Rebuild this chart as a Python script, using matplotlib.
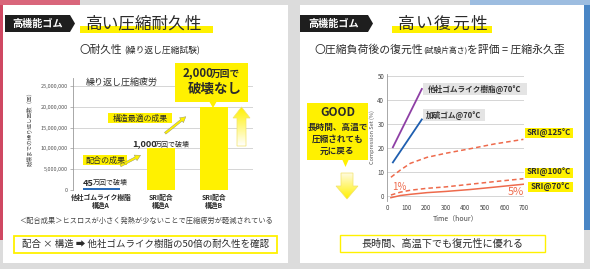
import numpy as np
import matplotlib
matplotlib.use("Agg")
import matplotlib.pyplot as plt
from matplotlib.patches import Rectangle, Polygon, FancyArrowPatch
from matplotlib.colors import LinearSegmentedColormap

plt.rcParams['font.family'] = ['Noto Sans CJK JP', 'DejaVu Sans']

# left chart: repeated compression fatigue
categories = ["他社ゴムライク樹脂\n構造A", "SRI配合\n構造A", "SRI配合\n構造B"]
cycles = [450000, 10000000, 20000000]
cycle_ticks = [0, 5000000, 10000000, 15000000, 20000000, 25000000]

# right chart: compression set vs time
t_other = [30, 178]
cs_other = [20.3, 44.6]
t_vulc = [30, 178]
cs_vulc = [14.0, 31.9]
t_sri = [20, 68, 119, 204, 300, 425, 550, 697]
cs_125 = [7.8, 10.8, 13.6, 16.1, 17.8, 19.7, 21.7, 23.6]
cs_100 = [0.4, 1.6, 2.4, 3.2, 3.8, 4.9, 6.0, 7.2]
cs_70 = [-0.7, 0.2, 0.7, 1.4, 1.9, 2.7, 3.7, 4.9]
time_ticks = [0, 100, 200, 300, 400, 500, 600, 700]
cs_ticks = [0, 10, 20, 30, 40, 50]

YEL = '#fff100'
DARK = '#2b2b2b'
RED = '#ee6a4c'

W, H = 590, 269
fig = plt.figure(figsize=(W / 100, H / 100), dpi=100)
fig.patch.set_facecolor('#dcdcdc')


def px_axes(x0, y0, x1, y1):
    return fig.add_axes([x0 / W, 1 - y1 / H, (x1 - x0) / W, (y1 - y0) / H])


def overlay(z):
    a = px_axes(0, 0, W, H)
    a.set_xlim(0, W)
    a.set_ylim(H, 0)
    a.axis('off')
    a.set_zorder(z)
    a.patch.set_alpha(0)
    return a


bg = overlay(0)
fg = overlay(3)


def txt(ax, x, y, s, size, **kw):
    kw.setdefault('va', 'center')
    kw.setdefault('color', DARK)
    ax.text(x, y, s, fontsize=size, **kw)


def gradient_arrow(ax, pts, x0, x1, y0, y1, colors):
    poly = Polygon(pts, closed=True, fc='none', ec='#f2e36a', lw=0.5, zorder=5)
    ax.add_patch(poly)
    cmap = LinearSegmentedColormap.from_list('g', colors)
    grad = np.linspace(0, 1, 64).reshape(-1, 1)
    im = ax.imshow(grad, extent=(x0, x1, y1, y0), cmap=cmap, aspect='auto', zorder=4)
    im.set_clip_path(poly)
    ax.set_xlim(0, W)
    ax.set_ylim(H, 0)


# background decoration
bg.add_patch(Rectangle((0, 0), 3, 240, fc='#cf4862', lw=0))
bg.add_patch(Rectangle((0, 0), 80, 5, fc='#d9667b', lw=0))
bg.add_patch(Rectangle((584, 0), 6, 230, fc='#4a86c5', lw=0))
bg.add_patch(Rectangle((470, 0), 120, 5, fc='#9dbde0', lw=0))
bg.add_patch(Rectangle((3, 5), 285, 258, fc='white', lw=0))
bg.add_patch(Rectangle((300, 5), 284, 258, fc='white', lw=0))

# ---------------- left panel ----------------
bg.add_patch(Polygon([(5, 15), (70, 15), (75, 23.5), (70, 32), (5, 32)], fc='#1e1e1e', lw=0))
txt(bg, 38, 23.5, '高機能ゴム', 7.3, color='white', ha='center', weight='bold')
bg.add_patch(Rectangle((80, 26), 133, 7, fc=YEL, lw=0))
txt(bg, 86, 24, '高い圧縮耐久性', 12, ha='left')
txt(bg, 80, 50, '〇耐久性', 7.7, ha='left')
txt(bg, 124, 50.5, '(繰り返し圧縮試験)', 6.3, ha='left')

ax1 = px_axes(73, 77.6, 253, 190)
ax1.set_zorder(1)
ax1.patch.set_alpha(0)
bar_pos = [0, 1.13, 2.13]
ax1.bar(bar_pos, cycles, width=[0.70, 0.53, 0.53], color=['#2a6bb8', YEL, YEL], zorder=3)
ax1.set_xlim(-0.53, 2.87)
ax1.set_ylim(0, 27000000)
ax1.set_yticks(cycle_ticks)
ax1.set_yticklabels([f'{v:,}' for v in cycle_ticks])
ax1.set_xticks(bar_pos)
ax1.set_xticklabels(categories, fontsize=4.9, color=DARK, weight='bold', linespacing=1.15)
ax1.yaxis.grid(True, color='#cfcfcf', lw=0.6)
ax1.set_axisbelow(True)
for s in ['top', 'right', 'bottom']:
    ax1.spines[s].set_visible(False)
ax1.spines['left'].set_color('#9a9a9a')
ax1.spines['left'].set_linewidth(0.6)
ax1.tick_params(axis='y', length=2, width=0.5, color='#9a9a9a', labelsize=4, labelcolor='#555', pad=1.5)
ax1.tick_params(axis='x', length=0, pad=3)
txt(bg, 30, 127, '破壊までの繰り返し回数（回）', 4, rotation=90, ha='center', color='#555')

txt(fg, 86, 82, '繰り返し圧縮疲労', 6.5, ha='left', color='#333')
fg.add_patch(Rectangle((108, 113), 64, 10, fc=YEL, lw=0))
txt(fg, 140, 118, '構造最適の成果', 5.7, ha='center')
fg.add_patch(Rectangle((83, 155), 44, 10, fc=YEL, lw=0))
txt(fg, 105, 160, '配合の成果', 5.8, ha='center')
txt(fg, 132, 144, '1,000', 6.6, ha='left', weight='bold')
txt(fg, 155, 144.5, '万回で破壊', 5, ha='left')
txt(fg, 83, 183, '45', 6.6, ha='left', weight='bold')
txt(fg, 93, 183.5, '万回で破壊', 5, ha='left')
for (xa, ya), (xb, yb) in [((118, 167), (143, 154)), ((163, 135), (188, 115))]:
    fg.add_patch(FancyArrowPatch((xa, ya), (xb, yb), arrowstyle='simple,head_width=4.5,head_length=4,tail_width=1.6',
                                 fc=YEL, ec='#8a8a6a', lw=0.3, mutation_scale=1))

# callout 2,000万回
fg.add_patch(Rectangle((175, 63), 73, 39, fc=YEL, lw=0))
fg.add_patch(Polygon([(209, 101), (217, 101), (213, 108)], fc=YEL, lw=0))
txt(fg, 183, 73, '2,000', 8.3, ha='left', weight='bold')
txt(fg, 211, 73.5, '万回で', 7, ha='left', weight='bold')
txt(fg, 215, 89, '破壊なし', 9.7, ha='center', weight='bold')
gradient_arrow(fg, [(241.5, 107), (250, 118), (246, 118), (246, 146), (237, 146), (237, 118), (233, 118)],
               233, 250, 107, 146, [YEL, '#ffffff'])

txt(bg, 146, 221, '＜配合成果＞ヒスロスが小さく発熱が少ないことで圧縮疲労が軽減されている', 5.2, ha='center', color='#444')
bg.add_patch(Rectangle((14, 236), 263, 17, fc='white', ec=YEL, lw=1.3))
txt(bg, 146, 244.5, '配合 × 構造 ➡ 他社ゴムライク樹脂の50倍の耐久性を確認', 6.8, ha='center')

# ---------------- right panel ----------------
bg.add_patch(Polygon([(300, 15), (368, 15), (373, 23.5), (368, 32), (300, 32)], fc='#1e1e1e', lw=0))
txt(bg, 334, 23.5, '高機能ゴム', 7.3, color='white', ha='center', weight='bold')
bg.add_patch(Rectangle((392, 26), 100, 7, fc=YEL, lw=0))
for i, ch in enumerate('高い復元性'):
    txt(bg, 406 + i * 18.2, 24, ch, 12, ha='center')
txt(bg, 314, 50, '〇圧縮負荷後の復元性', 7.8, ha='left')
txt(bg, 423, 50.5, '(試験片高さ)', 5.6, ha='left')
txt(bg, 467, 50, 'を評価 = 圧縮永久歪', 7.8, ha='left')

ax2 = px_axes(387, 73.6, 524, 200.8)
ax2.set_zorder(1)
ax2.patch.set_alpha(0)
ax2.plot(t_other, cs_other, color='#8e3fa5', lw=1.3)
ax2.plot(t_vulc, cs_vulc, color='#1f5fb0', lw=1.3)
ax2.plot(t_sri, cs_125, color=RED, lw=1.1, ls=(0, (3, 2)))
ax2.plot(t_sri, cs_100, color=RED, lw=1.1, ls=(0, (3, 2)))
ax2.plot(t_sri, cs_70, color=RED, lw=1.1)
ax2.set_xlim(0, 700)
ax2.set_ylim(-2, 51)
ax2.set_xticks(time_ticks)
ax2.set_yticks(cs_ticks)
ax2.yaxis.grid(True, color='#cfcfcf', lw=0.6)
ax2.set_axisbelow(True)
for s in ['top', 'right', 'bottom']:
    ax2.spines[s].set_visible(False)
ax2.spines['left'].set_color('#9a9a9a')
ax2.spines['left'].set_linewidth(0.6)
ax2.tick_params(length=0, labelsize=4.5, labelcolor='#444', pad=2)
ax2.set_xlabel('Time（hour）', fontsize=5, color='#444', labelpad=2)
ax2.set_ylabel('Compression Set (%)', fontsize=4, color='#555', labelpad=2)

fg.add_patch(Rectangle((423, 83), 104, 12, fc='#e4e4e4', lw=0))
txt(fg, 475, 89, '他社ゴムライク樹脂@70°C', 5.5, ha='center', weight='bold', color='#333')
fg.add_patch(Rectangle((423, 109), 62, 12, fc='#e4e4e4', lw=0))
txt(fg, 454, 115, '加硫ゴム@70°C', 5.5, ha='center', weight='bold', color='#333')
for (x0, y0, x1, y1), lab in [((525, 128, 573, 138), 'SRI@125°C'),
                               ((525, 168, 573, 177.5), 'SRI@100°C'),
                               ((528, 182, 573, 192), 'SRI@70°C')]:
    fg.add_patch(Rectangle((x0, y0), x1 - x0, y1 - y0, fc=YEL, lw=0))
    txt(fg, (x0 + x1) / 2, (y0 + y1) / 2, lab, 5.8, ha='center', weight='bold')
txt(fg, 392, 187, '1%', 7, ha='left', color=RED)
txt(fg, 508, 192, '5%', 8, ha='left', color=RED)

# GOOD callout
fg.add_patch(Rectangle((307, 103), 61, 57, fc=YEL, lw=0))
fg.add_patch(Polygon([(342, 159), (349, 159), (345.5, 167)], fc=YEL, lw=0))
txt(fg, 337.5, 113, 'GOOD', 8.5, ha='center', weight='bold')
txt(fg, 337.5, 127, '長時間、高温で', 6.2, ha='center', weight='bold')
txt(fg, 337.5, 139, '圧縮されても', 6.2, ha='center', weight='bold')
txt(fg, 337.5, 151, '元に戻る', 6.2, ha='center', weight='bold')
gradient_arrow(fg, [(341, 173), (353, 173), (353, 186), (358, 186), (347, 199), (336, 186), (341, 186)],
               336, 358, 173, 199, ['#fffbe0', YEL])

bg.add_patch(Rectangle((340, 235), 205, 17, fc='white', ec=YEL, lw=1.0))
txt(bg, 442.5, 243.5, '長時間、高温下でも復元性に優れる', 7.3, ha='center')

fig.savefig('out.png', dpi=100, facecolor=fig.get_facecolor())
